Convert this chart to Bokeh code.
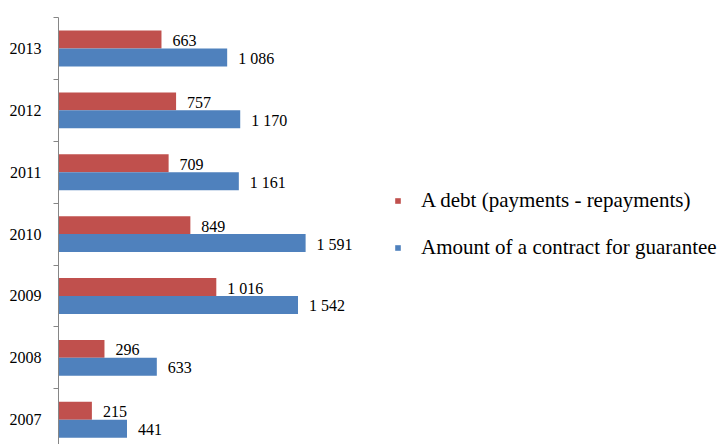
from bokeh.plotting import figure
from bokeh.models import ColumnDataSource, LinearAxis, FixedTicker, Range1d, Legend, LegendItem
from bokeh.transform import dodge
from bokeh.core.properties import value
from bokeh.embed import file_html
from bokeh.resources import INLINE

years = [2007, 2008, 2009, 2010, 2011, 2012, 2013]
debt = [215, 296, 1016, 849, 709, 757, 663]
amount = [441, 633, 1542, 1591, 1161, 1170, 1086]
series_names = ["A debt (payments - repayments)", "Amount of a contract for guarantee"]
colors = ["#C0504D", "#4F81BD"]

def fmt(v):
    return f"{v:,}".replace(",", " ")

src = ColumnDataSource(dict(
    year=years, debt=debt, amount=amount,
    debt_lbl=[fmt(v) for v in debt],
    amount_lbl=[fmt(v) for v in amount],
))

FONT = "Liberation Serif"

p = figure(width=722, height=444, output_backend="svg", toolbar_location=None,
           x_axis_type=None, y_axis_type=None,
           x_range=Range1d(0, 4275), y_range=Range1d(years[0] - 0.4, years[-1] + 0.5),
           min_border_left=58, min_border_top=17, min_border_bottom=0, min_border_right=0)
p.outline_line_color = None
p.xgrid.visible = False
p.ygrid.visible = False

bw = 0.29
r1 = p.hbar(y=dodge("year", bw / 2, range=p.y_range), right="debt", left=0, height=bw,
            source=src, fill_color=colors[0], line_color=None)
r2 = p.hbar(y=dodge("year", -bw / 2, range=p.y_range), right="amount", left=0, height=bw,
            source=src, fill_color=colors[1], line_color=None)

p.text(x="debt", y=dodge("year", bw / 2, range=p.y_range), text="debt_lbl", source=src,
       x_offset=11, y_offset=1, text_baseline="middle", text_font=value(FONT),
       text_font_size="16px", text_color="black")
p.text(x="amount", y=dodge("year", -bw / 2, range=p.y_range), text="amount_lbl", source=src,
       x_offset=11, y_offset=1, text_baseline="middle", text_font=value(FONT),
       text_font_size="16px", text_color="black")

ax = LinearAxis(ticker=FixedTicker(ticks=years, minor_ticks=[y + 0.5 for y in [years[0] - 1] + years]))
ax.major_label_overrides = {y: str(y) for y in years}
ax.major_tick_out = 0
ax.major_tick_in = 0
ax.minor_tick_out = 5
ax.minor_tick_in = 0
ax.minor_tick_line_color = "#868686"
ax.axis_line_color = "#868686"
ax.major_label_standoff = 12
ax.major_label_text_font = FONT
ax.major_label_text_font_size = "16px"
ax.major_label_text_color = "black"
p.add_layout(ax, "left")

legend = Legend(items=[LegendItem(label=series_names[0], renderers=[r1]),
                       LegendItem(label=series_names[1], renderers=[r2])],
                location=(336, 184), orientation="vertical",
                glyph_width=7, glyph_height=7, label_height=22, spacing=22,
                label_standoff=20, padding=0, margin=0,
                label_text_font=FONT, label_text_font_size="21px", label_text_color="black",
                border_line_color=None, background_fill_alpha=0)
p.add_layout(legend)

open("out.html", "w").write(file_html(p, INLINE))
